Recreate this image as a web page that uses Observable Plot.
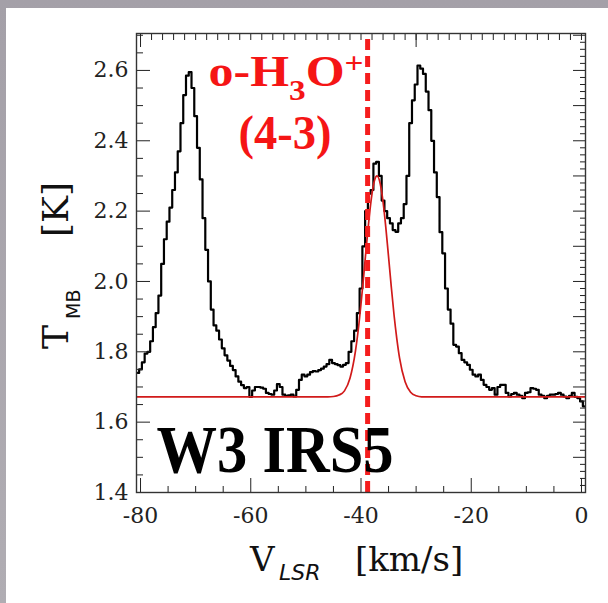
<!DOCTYPE html>
<html><head><meta charset="utf-8">
<script src="https://cdn.jsdelivr.net/npm/d3@7"></script>
<script src="https://cdn.jsdelivr.net/npm/@observablehq/plot@0.6"></script>
<style>
html,body{margin:0;padding:0;}
body{width:608px;height:603px;position:relative;overflow:hidden;background:linear-gradient(180deg,#a4a0a8,#b0adb3);}
#panel{position:absolute;left:6px;top:8px;width:602px;height:595px;background:#fff;}
#chart{position:absolute;left:0;top:0;}
</style></head><body><div id="panel"></div><div id="chart"></div>
<script>
// observed spectrum (V_LSR km/s, T_MB K)
const velocity = [-80.5,-80.0,-79.5,-79.0,-78.5,-78.0,-77.5,-77.0,-76.5,-76.0,-75.5,-75.0,-74.5,-74.0,-73.5,-73.0,-72.5,-72.0,-71.5,-71.0,-70.5,-70.0,-69.5,-69.0,-68.5,-68.0,-67.5,-67.0,-66.5,-66.0,-65.5,-65.0,-64.5,-64.0,-63.5,-63.0,-62.5,-62.0,-61.5,-61.0,-60.5,-60.0,-59.5,-59.0,-58.5,-58.0,-57.5,-57.0,-56.5,-56.0,-55.5,-55.0,-54.5,-54.0,-53.5,-53.0,-52.5,-52.0,-51.5,-51.0,-50.5,-50.0,-49.5,-49.0,-48.5,-48.0,-47.5,-47.0,-46.5,-46.0,-45.5,-45.0,-44.5,-44.0,-43.5,-43.0,-42.5,-42.0,-41.5,-41.0,-40.5,-40.0,-39.5,-39.0,-38.5,-38.0,-37.5,-37.0,-36.5,-36.0,-35.5,-35.0,-34.5,-34.0,-33.5,-33.0,-32.5,-32.0,-31.5,-31.0,-30.5,-30.0,-29.5,-29.0,-28.5,-28.0,-27.5,-27.0,-26.5,-26.0,-25.5,-25.0,-24.5,-24.0,-23.5,-23.0,-22.5,-22.0,-21.5,-21.0,-20.5,-20.0,-19.5,-19.0,-18.5,-18.0,-17.5,-17.0,-16.5,-16.0,-15.5,-15.0,-14.5,-14.0,-13.5,-13.0,-12.5,-12.0,-11.5,-11.0,-10.5,-10.0,-9.5,-9.0,-8.5,-8.0,-7.5,-7.0,-6.5,-6.0,-5.5,-5.0,-4.5,-4.0,-3.5,-3.0,-2.5,-2.0,-1.5,-1.0,-0.5,0.0,0.5];
const tmb = [1.74,1.75,1.77,1.795,1.80,1.83,1.87,1.91,1.96,2.05,2.12,2.17,2.21,2.26,2.31,2.37,2.45,2.53,2.585,2.595,2.55,2.47,2.38,2.29,2.18,2.09,2.00,1.92,1.875,1.86,1.835,1.81,1.79,1.775,1.76,1.748,1.73,1.715,1.705,1.697,1.70,1.672,1.69,1.70,1.70,1.698,1.695,1.683,1.68,1.678,1.69,1.708,1.70,1.678,1.675,1.676,1.678,1.673,1.692,1.72,1.735,1.73,1.735,1.742,1.745,1.744,1.748,1.752,1.758,1.765,1.777,1.768,1.765,1.762,1.758,1.763,1.768,1.80,1.83,1.86,1.91,1.98,2.10,2.20,2.25,2.26,2.335,2.34,2.30,2.23,2.20,2.18,2.165,2.146,2.141,2.165,2.18,2.22,2.30,2.45,2.515,2.56,2.614,2.605,2.59,2.54,2.487,2.40,2.31,2.24,2.14,2.08,1.98,1.92,1.88,1.82,1.815,1.796,1.777,1.77,1.763,1.749,1.735,1.73,1.735,1.72,1.706,1.70,1.692,1.697,1.678,1.70,1.706,1.706,1.683,1.673,1.68,1.683,1.678,1.675,1.668,1.683,1.685,1.697,1.695,1.692,1.678,1.675,1.668,1.675,1.678,1.678,1.68,1.683,1.678,1.673,1.668,1.675,1.683,1.672,1.668,1.659,1.645];

// Gaussian fit curve
const fitVelocity = [-80.7,-46.0,-45.0,-44.0,-43.0,-42.0,-41.0,-40.5,-40.0,-39.5,-39.0,-38.5,-38.0,-37.5,-37.1,-36.5,-36.0,-35.5,-35.0,-34.5,-34.0,-33.5,-33.0,-32.0,-31.0,-30.0,-29.0,0.7];
const fitT = [1.672,1.672,1.673,1.677,1.689,1.725,1.803,1.862,1.936,2.018,2.105,2.185,2.25,2.29,2.30,2.277,2.226,2.154,2.07,1.984,1.904,1.837,1.782,1.715,1.685,1.675,1.672,1.672];

const lineVelocity = [-38.8];

const xMajorTicks = [-80,-60,-40,-20,0];
const xMinorTicks = [-75,-70,-65,-55,-50,-45,-35,-30,-25,-15,-10,-5];
const xTopMinorTicks = [-78,-76,-74,-72,-70,-68,-66,-64,-62,-60,-58,-56,-54,-52,-50,-48,-46,-44,-42,-40,-38,-36,-34,-32,-30,-28,-26,-24,-22,-20,-18,-16,-14,-12,-10,-8,-6,-4,-2,0];
const xTopMajorTicks = [-80,-30];
const yMajorTicks = [1.4,1.6,1.8,2.0,2.2,2.4,2.6];
const yMinorTicks = [1.45,1.5,1.55,1.65,1.7,1.75,1.85,1.9,1.95,2.05,2.1,2.15,2.25,2.3,2.35,2.45,2.5,2.55,2.65,2.7];
const yRightMajorTicks = [1.5,1.6,1.7,1.8,1.9,2.0,2.1,2.2,2.3,2.4,2.5,2.6,2.7];
const yRightMinorTicks = [1.42,1.44,1.46,1.48,1.52,1.54,1.56,1.58,1.62,1.64,1.66,1.68,1.72,1.74,1.76,1.78,1.82,1.84,1.86,1.88,1.92,1.94,1.96,1.98,2.02,2.04,2.06,2.08,2.12,2.14,2.16,2.18,2.22,2.24,2.26,2.28,2.32,2.34,2.36,2.38,2.42,2.44,2.46,2.48,2.52,2.54,2.56,2.58,2.62,2.64,2.66,2.68];

const spectrum = velocity.map((v, i) => ({v, t: tmb[i]}));
const fit = fitVelocity.map((v, i) => ({v, t: fitT[i]}));

const axisColor = "#222";
const noText = () => "";

const plot = Plot.plot({
  width: 608, height: 603,
  marginLeft: 136, marginRight: 23, marginTop: 33, marginBottom: 111,
  style: {background: "transparent", fontFamily: "DejaVu Serif", fontSize: "22px", color: axisColor},
  x: {domain: [-80.73, 0.73], label: null},
  y: {domain: [1.4, 2.705], label: null},
  marks: [
    Plot.line(spectrum, {x: "v", y: "t", curve: "step", stroke: "#000", strokeWidth: 2.2, clip: true}),
    Plot.line(fit, {x: "v", y: "t", curve: "monotone-x", stroke: "#d11a1a", strokeWidth: 1.7, clip: true}),
    Plot.ruleX(lineVelocity, {stroke: "#f51d1d", strokeWidth: 5, strokeDasharray: "11,6", insetTop: 6, insetBottom: -6}),
    Plot.axisX(xMajorTicks, {anchor: "bottom", tickSize: -14, tickPadding: 29, tickFormat: d => String(d), stroke: axisColor, fill: axisColor, label: null, fontSize: 22, fontFamily: "DejaVu Serif", letterSpacing: "1px"}),
    Plot.axisX(xMinorTicks, {anchor: "bottom", tickSize: -6, tickFormat: noText, stroke: axisColor, label: null}),
    Plot.axisX(xTopMinorTicks, {anchor: "top", tickSize: -6, tickFormat: noText, stroke: axisColor, label: null}),
    Plot.axisX(xTopMajorTicks, {anchor: "top", tickSize: -13, tickFormat: noText, stroke: axisColor, label: null}),
    Plot.axisY(yMajorTicks, {anchor: "left", tickSize: -14, tickPadding: 22, tickFormat: d3.format(".1f"), stroke: axisColor, fill: axisColor, label: null, fontSize: 22, fontFamily: "DejaVu Serif", letterSpacing: "1.5px"}),
    Plot.axisY(yMinorTicks, {anchor: "left", tickSize: -7, tickFormat: noText, stroke: axisColor, label: null}),
    Plot.axisY(yRightMajorTicks, {anchor: "right", tickSize: -13, tickFormat: noText, stroke: axisColor, label: null}),
    Plot.axisY(yRightMinorTicks, {anchor: "right", tickSize: -6, tickFormat: noText, stroke: axisColor, label: null}),
    Plot.frame({stroke: "#333", strokeWidth: 1.4})
  ]
});

document.getElementById("chart").appendChild(plot);

const svg = d3.select(plot);
const sx = plot.scale("x"), sy = plot.scale("y");

// title: o-H3O+ (4-3)
const title = svg.append("text")
  .attr("x", sx.apply(-53.5)).attr("y", sy.apply(2.555))
  .attr("text-anchor", "middle").attr("fill", "#f51515")
  .attr("font-family", "Liberation Serif").attr("font-weight", "bold").attr("font-size", 45)
  .attr("textLength", 155).attr("lengthAdjust", "spacingAndGlyphs");
title.append("tspan").text("o-H");
title.append("tspan").attr("font-size", 30).attr("dy", 14).text("3");
title.append("tspan").attr("dy", -14).text("O");
title.append("tspan").attr("font-size", 30).attr("dy", -13).text("+");

svg.append("text")
  .attr("x", sx.apply(-53.7)).attr("y", sy.apply(2.374))
  .attr("text-anchor", "middle").attr("fill", "#f51515")
  .attr("font-family", "Liberation Serif").attr("font-weight", "bold").attr("font-size", 48)
  .attr("textLength", 93).attr("lengthAdjust", "spacingAndGlyphs")
  .text("(4-3)");

svg.append("text")
  .attr("x", sx.apply(-55.5)).attr("y", sy.apply(1.457))
  .attr("text-anchor", "middle").attr("fill", "#000")
  .attr("font-family", "Liberation Serif").attr("font-weight", "bold").attr("font-size", 67)
  .attr("textLength", 237).attr("lengthAdjust", "spacingAndGlyphs")
  .text("W3 IRS5");

// y axis label: T_MB [K]
const yl = svg.append("text").attr("transform", "translate(68,349) rotate(-90)")
  .attr("text-anchor", "start")
  .attr("fill", "#111").attr("font-family", "DejaVu Serif").attr("font-size", 36);
yl.append("tspan").attr("x", 0).attr("y", 0).text("T");
yl.append("tspan").attr("x", 30).attr("y", 12).attr("font-family", "DejaVu Sans").attr("font-size", 19).text("MB");
yl.append("tspan").attr("x", 112).attr("y", 0).text("[K]");

// x axis label: V_LSR [km/s]
const xl = svg.append("text").attr("text-anchor", "start")
  .attr("fill", "#111").attr("font-family", "DejaVu Serif").attr("font-size", 34);
xl.append("tspan").attr("x", 250).attr("y", 571).text("V");
xl.append("tspan").attr("x", 279).attr("y", 580).attr("font-family", "DejaVu Sans").attr("font-style", "italic").attr("font-size", 22).text("LSR");
xl.append("tspan").attr("x", 355).attr("y", 571).text("[km/s]");
</script>
</body></html>
